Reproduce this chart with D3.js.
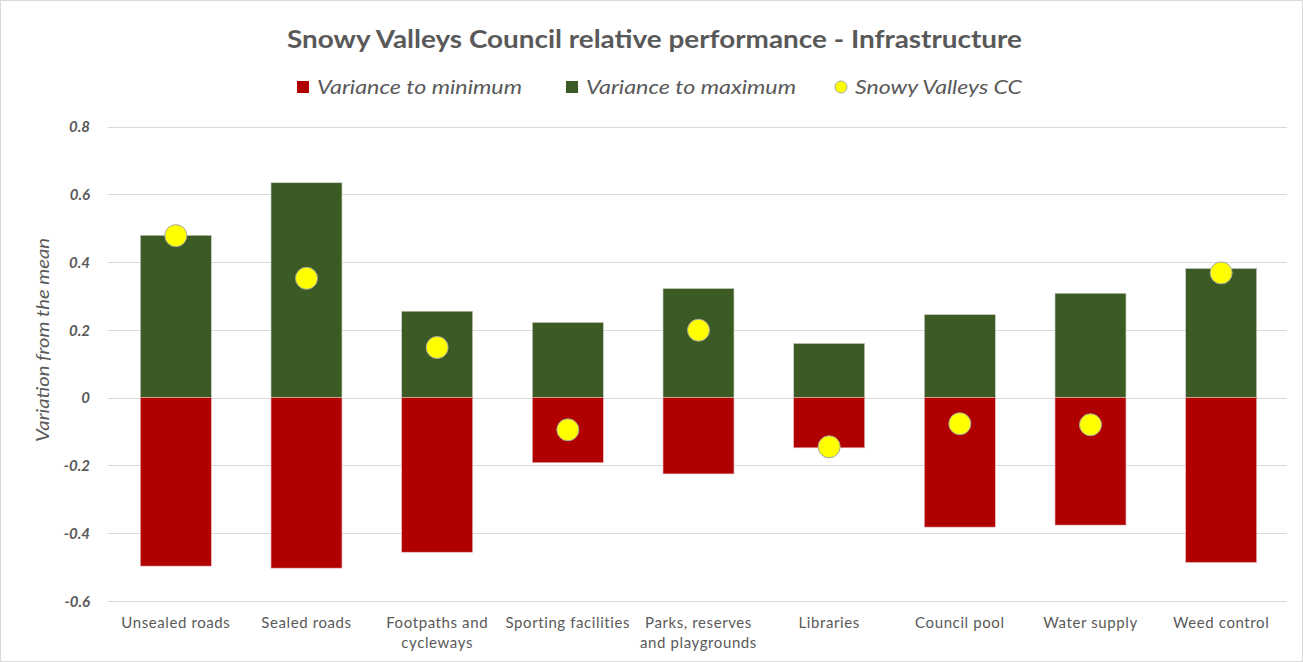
<!DOCTYPE html>
<html>
<head>
<meta charset="utf-8">
<script src="https://cdn.jsdelivr.net/npm/d3@7"></script>
<style>
  body { margin: 0; background: #fff; }
  text { font-family: Lato, "Open Sans", sans-serif; fill: #595959; }
  .grid line { stroke: #d9d9d9; stroke-width: 1; }
</style>
</head>
<body>
<svg id="chart" width="1303" height="662"></svg>
<script>
// data
var categories = ["Unsealed roads", "Sealed roads", "Footpaths and cycleways", "Sporting facilities",
    "Parks, reserves and playgrounds", "Libraries", "Council pool", "Water supply", "Weed control"];
var categoryLines = [["Unsealed roads"], ["Sealed roads"], ["Footpaths and", "cycleways"], ["Sporting facilities"],
    ["Parks, reserves", "and playgrounds"], ["Libraries"], ["Council pool"], ["Water supply"], ["Weed control"]];
var varianceToMinimum = [-0.497, -0.503, -0.456, -0.192, -0.225, -0.148, -0.382, -0.376, -0.486];
var varianceToMaximum = [0.479, 0.634, 0.255, 0.222, 0.322, 0.160, 0.245, 0.308, 0.381];
var snowyValleysCC = [0.478, 0.352, 0.148, -0.095, 0.199, -0.145, -0.077, -0.080, 0.368];
var yTicks = [0.8, 0.6, 0.4, 0.2, 0, -0.2, -0.4, -0.6];

var svg = d3.select("#chart");

svg.append("rect")
    .attr("x", 0.5).attr("y", 0.5)
    .attr("width", 1302).attr("height", 661)
    .attr("fill", "#fff").attr("stroke", "#d9d9d9");

var x = d3.scaleBand()
    .domain(categories)
    .range([110.5, 1286.5])
    .paddingInner(0.457)
    .paddingOuter(0.2285);

var y = d3.scaleLinear()
    .domain([-0.6, 0.8])
    .range([601, 126.5]);

// gridlines
var grid = svg.append("g").attr("class", "grid");
grid.selectAll("line")
    .data(yTicks)
    .enter()
    .append("line")
    .attr("x1", 108).attr("x2", 1287)
    .attr("y1", function(d) {return Math.round(y(d)) + 0.5;})
    .attr("y2", function(d) {return Math.round(y(d)) + 0.5;});

// y axis labels (plain hyphen for negatives, like the original)
var yAxis = d3.axisLeft(y).tickValues(yTicks).tickSize(0).tickPadding(0)
    .tickFormat(function(d) {return d === 0 ? "0" : d.toFixed(1);});
var yg = svg.append("g").attr("transform", "translate(90,0)").call(yAxis);
yg.select(".domain").remove();
yg.selectAll("text")
    .style("font-family", "Lato, sans-serif")
    .style("font-size", "15px")
    .style("font-style", "italic")
    .style("font-weight", "bold")
    .attr("dy", "0.35em")
    .attr("fill", "#595959");

// bars
svg.append("g")
    .selectAll("rect.max")
    .data(categories)
    .enter()
    .append("rect")
    .attr("class", "max")
    .attr("x", function(d) {return x(d);})
    .attr("width", x.bandwidth())
    .attr("y", function(d, i) {return y(varianceToMaximum[i]);})
    .attr("height", function(d, i) {return y(0) - y(varianceToMaximum[i]);})
    .attr("fill", "#3c5a24")
    .attr("stroke", "#c9d0c2").attr("stroke-width", 0.6);

svg.append("g")
    .selectAll("rect.min")
    .data(categories)
    .enter()
    .append("rect")
    .attr("class", "min")
    .attr("x", function(d) {return x(d);})
    .attr("width", x.bandwidth())
    .attr("y", y(0))
    .attr("height", function(d, i) {return y(varianceToMinimum[i]) - y(0);})
    .attr("fill", "#b00000")
    .attr("stroke", "#e8b8b8").attr("stroke-width", 0.6);

// dots
svg.append("g")
    .selectAll("circle")
    .data(categories)
    .enter()
    .append("circle")
    .attr("cx", function(d) {return x(d) + x.bandwidth() / 2;})
    .attr("cy", function(d, i) {return y(snowyValleysCC[i]);})
    .attr("r", 11)
    .attr("fill", "#ffff00")
    .attr("stroke", "#a6a6a6").attr("stroke-width", 1);

// x labels
var xl = svg.append("g")
    .selectAll("text")
    .data(categories)
    .enter()
    .append("text")
    .attr("text-anchor", "middle")
    .attr("x", function(d) {return x(d) + x.bandwidth() / 2;})
    .attr("y", 628)
    .style("font-size", "15px")
    .style("letter-spacing", "0.6px");
xl.selectAll("tspan")
    .data(function(d, i) {return categoryLines[i];})
    .enter()
    .append("tspan")
    .attr("x", function() {return d3.select(this.parentNode).attr("x");})
    .attr("dy", function(d, i) {return i === 0 ? 0 : 20;})
    .text(function(d) {return d;});

// y title
svg.append("text")
    .attr("transform", "translate(49,340) rotate(-90)")
    .attr("text-anchor", "middle")
    .attr("textLength", 204)
    .attr("lengthAdjust", "spacingAndGlyphs")
    .style("font-size", "18px")
    .style("font-style", "italic")
    .text("Variation from the mean");

// title
svg.append("text")
    .attr("x", 654.5).attr("y", 48)
    .attr("text-anchor", "middle")
    .attr("textLength", 735)
    .attr("lengthAdjust", "spacingAndGlyphs")
    .style("font-size", "25px")
    .style("font-weight", "bold")
    .text("Snowy Valleys Council relative performance - Infrastructure");

// legend
var legendItems = [
    {name: "Variance to minimum", color: "#b00000", shape: "rect", x: 297, w: 205},
    {name: "Variance to maximum", color: "#3c5a24", shape: "rect", x: 566, w: 210},
    {name: "Snowy Valleys CC", color: "#ffff00", shape: "circle", x: 835, w: 167}
];
var lg = svg.append("g")
    .selectAll("g")
    .data(legendItems)
    .enter()
    .append("g")
    .attr("transform", function(d) {return "translate(" + d.x + ",87)";});
lg.filter(function(d) {return d.shape === "rect";})
    .append("rect")
    .attr("x", 0).attr("y", -6)
    .attr("width", 12).attr("height", 12)
    .attr("fill", function(d) {return d.color;});
lg.filter(function(d) {return d.shape === "circle";})
    .append("circle")
    .attr("cx", 6).attr("cy", 0).attr("r", 6)
    .attr("fill", function(d) {return d.color;})
    .attr("stroke", "#a6a6a6");
lg.append("text")
    .attr("x", function(d) {return d.shape === "circle" ? 20 : 20;})
    .attr("y", 7)
    .attr("textLength", function(d) {return d.w;})
    .attr("lengthAdjust", "spacingAndGlyphs")
    .style("font-size", "19px")
    .style("font-style", "italic")
    .text(function(d) {return d.name;});
</script>
</body>
</html>
